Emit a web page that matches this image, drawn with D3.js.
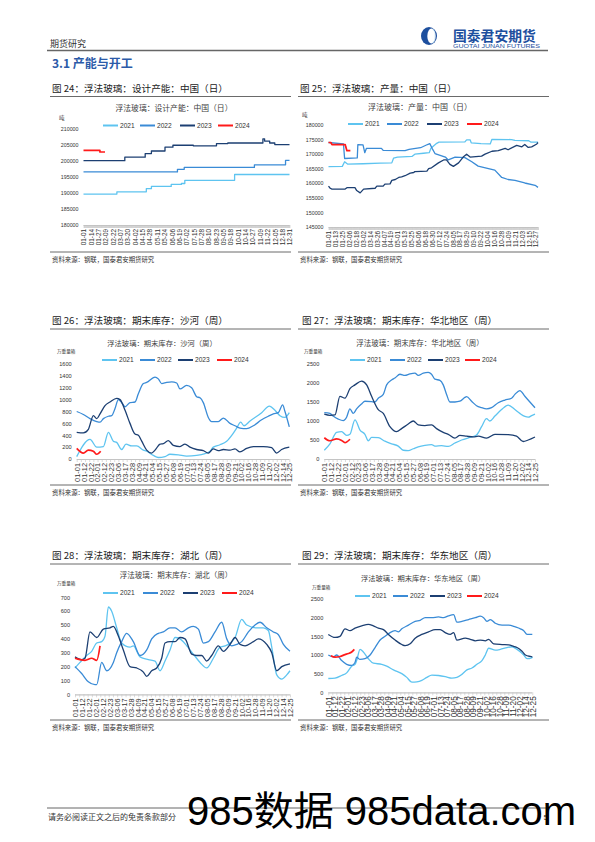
<!DOCTYPE html>
<html><head><meta charset="utf-8">
<script src="https://cdn.jsdelivr.net/npm/d3@7"></script>
<style>body{margin:0;background:#fff}svg{display:block}</style>
</head><body>
<svg id="page" width="595" height="842"></svg>
<script>
// ---------------- DATA ----------------
const years = ["2021", "2022", "2023", "2024"];

// Chart 24: design capacity (daily, step) [dayOfYear, tonnes]
const capLabels = ["01-01","01-14","01-27","02-09","02-22","03-07","03-20","04-02","04-15","04-28","05-11","05-24","06-06","06-19","07-02","07-15","07-28","08-10","08-23","09-05","09-18","10-01","10-14","10-27","11-09","11-22","12-05","12-18","12-31"];
const capTicks = [180000,185000,190000,195000,200000,205000,210000];
const cap2021 = [[0,189600],[59,190300],[111,191300],[120,192000],[155,192600],[173,192900],[179,193900],[267,195700],[364,195700]];
const cap2022 = [[0,196500],[166,197300],[178,197900],[302,198700],[357,200100],[364,200100]];
const cap2023 = [[0,200000],[73,201100],[109,202200],[120,203000],[144,204200],[158,204800],[194,204600],[235,205300],[255,205500],[317,206800],[320,206100],[329,205500],[338,205000],[364,205000]];
const cap2024 = [[0,203200],[29,202700],[38,202700]];

// Chart 25: output (daily) [dayOfYear, tonnes]
const outLabels = ["01-01","01-13","01-25","02-06","02-18","03-02","03-14","03-26","04-07","04-19","05-01","05-13","05-25","06-06","06-18","06-30","07-12","07-24","08-05","08-17","08-29","09-10","09-22","10-04","10-16","10-28","11-09","11-21","12-03","12-15","12-27"];
const outTicks = [145000,150000,155000,160000,165000,170000,175000,180000];
const out2021 = [[0,165700],[24,165800],[28,167400],[33,166600],[60,166700],[90,166900],[110,167000],[113,168600],[120,169000],[145,169200],[150,170000],[165,170300],[175,170500],[178,172000],[188,173700],[192,174100],[237,174200],[240,174900],[246,174900],[248,173900],[265,173600],[281,173500],[284,175100],[318,175000],[324,174700],[348,174600],[352,174100],[364,174100]];
const out2022 = [[0,174000],[26,173500],[28,168500],[50,168700],[51,173300],[60,173200],[63,170500],[66,172000],[92,172000],[95,171300],[133,171200],[140,171600],[160,172200],[172,173300],[176,173600],[180,172000],[185,170200],[203,169000],[208,168000],[220,169000],[237,168800],[249,167400],[260,165900],[278,165000],[289,164500],[301,162000],[312,161300],[324,161000],[341,160100],[359,159300],[364,158600]];
const out2023 = [[0,159000],[3,158300],[6,158000],[29,158000],[32,158500],[46,158500],[49,157500],[55,156700],[61,158000],[81,158300],[84,159000],[95,159000],[98,159700],[107,159800],[110,161000],[116,161300],[122,162000],[127,162200],[133,162600],[142,163500],[148,163700],[150,164000],[171,164200],[174,165000],[179,165300],[191,167000],[200,168000],[205,168000],[211,166500],[217,165800],[226,167000],[234,169000],[240,170000],[246,169000],[266,169300],[272,170000],[284,171000],[295,171200],[307,172000],[312,171500],[327,173000],[336,172500],[341,173300],[347,172300],[353,172500],[362,173500],[364,174000]];
const out2024 = [[0,174000],[4,174000],[6,173300],[29,173300],[30,172500],[32,171200],[38,171200]];

// Weekly inventory charts: x = position along the category labels
const weekLabels = ["01-01","01-12","01-22","02-01","02-12","02-23","03-06","03-17","03-28","04-09","04-21","05-04","05-15","05-27","06-08","06-19","07-01","07-13","07-24","08-05","08-17","08-28","09-09","09-21","10-02","10-16","10-28","11-09","11-20","12-02","12-14","12-25"];

// Chart 26: Shahe
const shTicks = [0,200,400,600,800,1000,1200,1400,1600];
const sh2021 = [[0,40],[1.94,330],[2.92,200],[3.89,210],[4.62,450],[5.34,300],[5.83,280],[6.56,160],[7.19,250],[8.02,220],[8.75,220],[9.72,150],[10.2,130],[11.18,60],[11.9,25],[12.88,40],[13.6,80],[14.82,70],[16.03,50],[17.49,60],[18.71,90],[19.44,130],[19.92,200],[20.89,240],[21.87,300],[22.74,420],[23.32,520],[23.91,620],[24.39,560],[25.27,640],[26.97,780],[28.09,890],[28.91,820],[29.64,730],[30.37,700],[31,780]];
const sh2022 = [[0,800],[0.97,750],[1.94,680],[2.92,630],[3.4,620],[3.89,680],[4.62,720],[5.1,730],[5.59,850],[6.07,1000],[6.56,950],[7.05,880],[7.77,950],[8.5,960],[8.99,1100],[9.72,1270],[10.2,1290],[11.42,1380],[11.9,1350],[12.39,1270],[13.12,1290],[13.85,1300],[14.58,1280],[15.06,1180],[16.03,1240],[16.76,1200],[17.49,1050],[17.98,1030],[18.46,950],[19.19,700],[19.68,630],[20.65,630],[21.38,690],[22.35,600],[23.08,560],[23.81,520],[24.78,510],[25.76,560],[26.97,660],[27.94,720],[28.67,760],[29.4,780],[30.03,910],[30.37,800],[31,540]];
const sh2023 = [[0,450],[0.97,440],[1.7,500],[2.43,730],[2.92,680],[3.4,760],[4.13,900],[4.86,960],[5.83,1020],[6.32,1000],[7.05,820],[7.77,600],[8.5,420],[8.99,400],[9.48,300],[10.2,150],[10.93,100],[11.42,150],[12.15,250],[12.63,260],[13.36,310],[14.09,230],[15.06,210],[15.79,250],[16.52,200],[17.49,160],[18.46,140],[19.19,100],[19.92,170],[20.65,140],[21.38,160],[22.35,150],[23.08,170],[23.81,120],[24.78,180],[25.76,210],[27.21,210],[28.43,190],[29.15,100],[29.88,160],[31,200]];
const sh2024 = [[0,180],[0.97,100],[1.7,150],[2.43,130],[2.92,80],[3.5,130]];

// Chart 27: North China
const hbTicks = [0,500,1000,1500,2000,2500];
const hb2021 = [[0,230],[0.83,400],[1.81,700],[2.55,720],[3.28,620],[3.77,650],[4.51,1030],[5.25,760],[5.98,650],[6.47,480],[6.96,570],[7.94,560],[8.92,470],[9.9,400],[10.88,340],[11.62,230],[12.35,220],[13.09,270],[13.82,320],[14.8,360],[15.78,380],[16.27,340],[17.25,350],[18.24,330],[19.22,420],[20.2,500],[21.67,580],[22.4,630],[23.14,850],[23.87,1060],[24.36,1000],[25.1,1130],[26.08,1300],[27.06,1420],[28.04,1300],[28.77,1200],[29.51,1120],[30,1100],[30.59,1150],[31,1180]];
const hb2022 = [[0,1220],[0.83,1200],[1.3,1130],[2.06,1050],[2.79,1010],[3.28,1100],[3.77,1320],[4.26,1200],[4.75,1320],[5.49,1450],[5.98,1520],[6.96,1510],[7.45,1500],[7.94,1600],[8.68,1700],[9.17,1950],[9.9,2080],[10.39,2130],[11.13,2230],[11.86,2200],[12.6,2240],[13.33,2260],[13.82,2200],[14.56,2260],[15.29,2280],[15.78,2230],[16.27,2100],[17.01,2070],[17.5,1950],[17.99,1700],[18.48,1500],[19.22,1500],[19.95,1520],[20.69,1620],[20.93,1640],[21.67,1520],[22.4,1400],[23.14,1350],[23.87,1320],[24.61,1350],[25.59,1480],[26.57,1550],[27.55,1600],[28.04,1700],[28.77,1800],[29.51,1650],[30.25,1500],[31,1350]];
const hb2023 = [[0,1180],[0.83,1150],[1.57,1160],[2.3,1650],[3.04,1600],[3.77,1850],[4.51,1950],[5.49,2050],[6.23,1950],[6.96,1650],[7.94,1300],[8.68,1200],[9.66,850],[10.64,720],[11.37,800],[12.35,920],[13.09,1000],[13.82,900],[14.8,880],[15.78,900],[16.52,800],[17.5,700],[18.24,650],[19.22,550],[19.95,620],[20.93,600],[21.91,580],[22.65,600],[23.87,550],[25.1,650],[27.06,640],[28.28,600],[29.26,460],[30,500],[31,580]];
const hb2024 = [[0,560],[0.83,480],[1.81,530],[2.55,490],[3.04,430],[3.77,520]];

// Chart 28: Hubei
const huTicks = [0,100,200,300,400,500,600,700];
const hu2021 = [[0,190],[0.72,230],[1.68,280],[2.4,310],[3.13,370],[3.85,380],[4.33,420],[4.81,630],[5.29,600],[6.01,480],[6.73,370],[7.93,340],[8.41,350],[9.38,270],[10.58,250],[11.54,240],[12.26,170],[12.98,240],[13.7,320],[14.42,410],[15.14,400],[16.11,350],[17.07,290],[18.03,230],[18.99,190],[19.95,260],[20.91,340],[21.63,350],[22.12,360],[23.08,410],[24.04,540],[24.76,500],[26.2,480],[27.16,480],[27.88,460],[28.37,340],[29.09,140],[29.81,110],[30.53,140],[31,170]];
const hu2022 = [[0,200],[0.96,150],[1.92,90],[2.88,70],[3.13,70],[3.85,230],[4.57,170],[5.53,230],[6.01,300],[6.73,380],[7.45,440],[8.41,380],[9.38,280],[10.34,320],[11.06,400],[12.02,440],[12.74,450],[13.7,480],[14.42,480],[15.38,450],[16.35,480],[17.07,490],[17.79,470],[18.51,370],[19.23,380],[20.19,450],[21.15,520],[21.88,400],[22.6,350],[23.32,360],[24.04,380],[25,450],[25.96,500],[26.68,520],[27.64,480],[28.61,450],[29.33,430],[30.05,360],[31,310]];
const hu2023 = [[0,270],[0.96,250],[1.44,260],[2.16,450],[3.13,410],[4.09,470],[5.05,480],[5.53,490],[6.25,420],[6.97,320],[7.93,200],[8.89,190],[9.86,160],[10.34,130],[11.06,170],[11.78,190],[12.5,260],[12.98,370],[13.7,380],[14.42,380],[15.14,410],[15.87,400],[16.83,290],[17.55,280],[18.27,280],[18.99,240],[19.71,280],[20.67,350],[21.39,310],[22.36,360],[23.08,410],[23.8,360],[24.52,350],[25.72,380],[26.44,400],[27.64,360],[28.37,300],[29.09,170],[29.81,200],[31,220]];
const hu2024 = [[0,260],[0.72,250],[1.44,245],[2.4,260],[3.13,245],[3.61,350]];

// Chart 29: East China
const hdTicks = [0,500,1000,1500,2000,2500];
const hd2021 = [[0,370],[1.02,380],[2.03,450],[2.79,520],[3.55,700],[4.06,750],[4.31,850],[4.82,1150],[5.33,1080],[6.09,900],[6.85,780],[8.12,750],[8.88,700],[9.9,600],[11.17,500],[11.93,400],[12.69,270],[13.45,280],[14.21,320],[14.97,400],[15.74,460],[16.75,450],[17.77,420],[18.78,380],[19.54,400],[20.3,480],[21.07,600],[21.83,650],[22.59,750],[23.35,850],[23.86,1000],[24.37,1180],[25.38,1130],[26.14,1150],[27.16,1200],[27.92,1220],[28.68,1150],[29.7,1000],[30.2,900],[30.96,930],[31,950]];
const hd2022 = [[0,1000],[0.76,950],[1.27,1000],[2.03,850],[2.79,750],[3.55,720],[4.06,800],[4.31,940],[4.82,880],[5.58,900],[6.35,1000],[7.11,1200],[7.87,1400],[8.63,1500],[9.39,1600],[10.15,1650],[10.66,1620],[11.17,1700],[12.18,1800],[13.2,1900],[13.96,1930],[14.72,2000],[15.74,2000],[16.75,2020],[17.51,2000],[18.27,2050],[19.04,2080],[19.54,1880],[20.3,1900],[21.32,1950],[22.34,2000],[23.1,2040],[23.6,2000],[24.11,1900],[24.62,1950],[25.38,1850],[26.4,1800],[27.41,1800],[28.43,1750],[29.19,1700],[29.7,1650],[30.2,1550],[31,1550]];
const hd2023 = [[0,1550],[1.02,1470],[1.78,1500],[2.54,1700],[3.3,1650],[4.06,1720],[5.08,1780],[6.09,1820],[6.85,1780],[7.61,1720],[8.38,1680],[9.14,1550],[10.15,1400],[11.17,1280],[11.68,1250],[12.44,1300],[13.2,1450],[14.21,1550],[15.23,1620],[16.24,1680],[17.01,1680],[17.77,1600],[18.53,1550],[19.04,1600],[19.54,1400],[20.81,1450],[21.57,1420],[22.34,1380],[23.1,1400],[23.86,1380],[24.37,1420],[25.13,1300],[26.4,1280],[27.41,1270],[28.17,1230],[28.68,1200],[29.44,1100],[29.95,1000],[30.71,960],[31,950]];
const hd2024 = [[0.4,980],[1.02,940],[1.78,960],[2.54,1010],[3.05,1040],[3.55,1080],[3.96,1150]];

// ---------------- STYLE / LAYOUT ----------------
const COLORS = ["#5ec4f0", "#3a8bd6", "#1c3f72", "#ff1a1a"];
const CJK = "'Noto Sans CJK SC', sans-serif";
const NUM = "'Liberation Sans', Arial, sans-serif";

const svg = d3.select("#page");

function txt(x, y, s, size, opt = {}) {
  return svg.append("text").attr("x", x).attr("y", y).text(s)
    .attr("font-family", opt.family || CJK).attr("font-size", size)
    .attr("fill", opt.fill || "#262626").attr("font-weight", opt.weight || "normal")
    .attr("text-anchor", opt.anchor || "start");
}
function hline(x1, x2, y, color, w) {
  svg.append("line").attr("x1", x1).attr("x2", x2).attr("y1", y).attr("y2", y)
    .attr("stroke", color).attr("stroke-width", w);
}

// Header
txt(50, 47, "期货研究", 9, {fill: "#333"});
hline(47, 548, 50.5, "#666", 1.3);
const lg = svg.append("g");
lg.append("ellipse").attr("cx", 429).attr("cy", 36).attr("rx", 8).attr("ry", 9).attr("fill", "#1d4f9e");
lg.append("ellipse").attr("cx", 431.5).attr("cy", 36).attr("rx", 4.2).attr("ry", 7.4).attr("fill", "#fff");
lg.append("path").attr("d", "M432,29 A4.2,7.4 0 0 1 432,43 A3,7 0 0 0 432,29 Z").attr("fill", "#5fb8e8");
txt(453, 40.5, "国泰君安期货", 13.8, {fill: "#1d4f9e", weight: "bold"});
svg.append("text").attr("x", 453).attr("y", 48).text("GUOTAI JUNAN FUTURES")
  .attr("font-family", NUM).attr("font-size", 4.6).attr("fill", "#1d4f9e")
  .attr("textLength", 87).attr("lengthAdjust", "spacingAndGlyphs");
txt(52, 68, "3.1  产能与开工", 12, {fill: "#2b5aa8", weight: "bold"});

// Footer
hline(47, 548, 808, "#666", 1);
txt(48, 820, "请务必阅读正文之后的免责条款部分", 8, {fill: "#333"});
txt(548, 820, "5", 8, {family: NUM, anchor: "end", fill: "#333"});

// ---------------- CHART FUNCTION ----------------
function drawChart(c) {
  txt(c.tx, c.ty, c.title, 9.6, {fill: "#222"});
  hline(c.lx1, c.lx2, c.ty + 5, "#444", 0.8);
  txt(c.itx, c.ity, c.inner, c.ifs || 7.6, {anchor: "middle", fill: "#404040"});
  txt(c.ux, c.uy, c.unit, c.unitSize || 5, {fill: "#404040"});
  years.forEach((yr, k) => {
    const lx = c.legX[k];
    svg.append("line").attr("x1", lx).attr("x2", lx + 15).attr("y1", c.legY).attr("y2", c.legY)
      .attr("stroke", COLORS[k]).attr("stroke-width", 2);
    txt(lx + 17, c.legY + 2.4, yr, 6.6, {family: NUM, fill: "#333"});
  });
  const x = d3.scaleLinear().domain(c.xDomain).range([c.x0, c.x1]);
  const y = d3.scaleLinear().domain([c.yTicks[0], c.yTicks[c.yTicks.length - 1]]).range([c.yBot, c.yTop]);
  const ya = svg.append("g").attr("transform", `translate(${c.x0 - 2},0)`)
    .call(d3.axisLeft(y).tickValues(c.yTicks).tickSize(0).tickPadding(c.yPad || 3).tickFormat(d3.format("d")));
  ya.select(".domain").remove();
  ya.selectAll("text").attr("font-family", NUM).attr("font-size", c.ySize || 5.6).attr("fill", "#333");
  const band = svg.append("g").attr("transform", `translate(0,${c.yBot})`)
    .call(d3.axisBottom(x).tickValues(c.minorTicks).tickSize(3).tickFormat(""));
  band.selectAll("line").attr("stroke", "#c4c4c4").attr("stroke-width", 0.6);
  band.select(".domain").attr("stroke", "#c4c4c4").attr("stroke-width", 1.2).attr("d", `M${c.x0},0.5H${c.x1}`);
  const xa = svg.append("g").attr("transform", `translate(0,${c.yBot + 3})`)
    .call(d3.axisBottom(x).tickValues(c.labelPos).tickSize(0).tickFormat((d, i) => c.labels[i]));
  xa.select(".domain").remove();
  xa.selectAll("text").attr("font-family", NUM).attr("font-size", c.xSize || 6.4).attr("fill", "#333")
    .attr("text-anchor", "end").attr("transform", "rotate(-90)")
    .attr("x", -1).attr("y", 0).attr("dx", 0).attr("dy", "0.35em");
  const line = d3.line().x(d => x(d[0])).y(d => y(d[1])).curve(c.curve);
  c.series.forEach((s, k) => {
    svg.append("path").datum(s).attr("d", line).attr("fill", "none")
      .attr("stroke", COLORS[k]).attr("stroke-width", k === 3 ? 1.7 : 1.3).attr("stroke-linejoin", "round");
  });
  hline(c.lx1, c.lx2, c.srcY, "#444", 0.8);
  txt(c.lx1 + 2, c.srcY + 9.5, "资料来源：钢联，国泰君安期货研究", 6.4, {fill: "#333"});
}

const dayOf = s => { const [m, d] = s.split("-").map(Number); return d3.timeDay.count(new Date(2023, 0, 1), new Date(2023, m - 1, d)); };
const allDays = d3.range(0, 365);
const weekMinor = d3.range(0, 52).map(w => w * 31 / 51);
const weekPos = d3.range(weekLabels.length);

drawChart({
  title: "图 24：浮法玻璃：设计产能：中国（日）", tx: 52, ty: 91.5, lx1: 50, lx2: 291,
  inner: "浮法玻璃：设计产能：中国（日）", itx: 174, ity: 110.5, ifs: 7.8,
  unit: "吨", ux: 59, uy: 119.5, unitSize: 5.5,
  legX: [103, 140, 180, 218], legY: 125.5,
  x0: 83.5, x1: 289.5, xDomain: [0, 364], yTop: 128.5, yBot: 225, yTicks: capTicks, ySize: 5.3,
  labels: capLabels, labelPos: capLabels.map(dayOf), minorTicks: allDays, xSize: 6.4,
  series: [cap2021, cap2022, cap2023, cap2024], curve: d3.curveStepAfter, srcY: 252
});
drawChart({
  title: "图 25：浮法玻璃：产量：中国（日）", tx: 300, ty: 91.5, lx1: 298, lx2: 549,
  inner: "浮法玻璃：产量：中国（日）", itx: 420, ity: 110, ifs: 8,
  unit: "吨", ux: 302, uy: 116.5, unitSize: 5.5,
  legX: [348, 387, 427, 467], legY: 124,
  x0: 328.5, x1: 538, xDomain: [0, 364], yTop: 125, yBot: 227, yTicks: outTicks, ySize: 5.3,
  labels: outLabels, labelPos: outLabels.map(dayOf), minorTicks: allDays, xSize: 6.4,
  series: [out2021, out2022, out2023, out2024], curve: d3.curveLinear, srcY: 252
});
drawChart({
  title: "图 26：浮法玻璃：期末库存：沙河（周）", tx: 52, ty: 324, lx1: 50, lx2: 291,
  inner: "浮法玻璃：期末库存：沙河（周）", itx: 162, ity: 346, ifs: 7.3,
  unit: "万重量箱", ux: 57, uy: 353, unitSize: 4.6,
  legX: [102, 140, 178, 217], legY: 360,
  x0: 76.7, x1: 289.3, xDomain: [0, 31], yTop: 364, yBot: 459, yTicks: shTicks, ySize: 5.6,
  labels: weekLabels, labelPos: weekPos, minorTicks: weekMinor, xSize: 7.4,
  series: [sh2021, sh2022, sh2023, sh2024], curve: d3.curveMonotoneX, srcY: 485
});
drawChart({
  title: "图 27：浮法玻璃：期末库存：华北地区（周）", tx: 302, ty: 324, lx1: 298, lx2: 549,
  inner: "浮法玻璃：期末库存：华北地区（周）", itx: 420, ity: 346, ifs: 7.5,
  unit: "万重量箱", ux: 304, uy: 353, unitSize: 4.6,
  legX: [350, 390, 428, 465], legY: 360,
  x0: 324.3, x1: 535, xDomain: [0, 31], yTop: 364, yBot: 459, yTicks: hbTicks, ySize: 5.6,
  labels: weekLabels, labelPos: weekPos, minorTicks: weekMinor, xSize: 7.4,
  series: [hb2021, hb2022, hb2023, hb2024], curve: d3.curveMonotoneX, srcY: 485
});
drawChart({
  title: "图 28：浮法玻璃：期末库存：湖北（周）", tx: 52, ty: 559, lx1: 50, lx2: 291,
  inner: "浮法玻璃：期末库存：湖北（周）", itx: 176, ity: 578, ifs: 7.5,
  unit: "万重量箱", ux: 57, uy: 585, unitSize: 4.6,
  legX: [103, 143, 183, 222], legY: 593,
  x0: 75, x1: 290, xDomain: [0, 31], yTop: 597.3, yBot: 694.3, yTicks: huTicks, ySize: 5.6,
  labels: weekLabels, labelPos: weekPos, minorTicks: weekMinor, xSize: 7.4,
  series: [hu2021, hu2022, hu2023, hu2024], curve: d3.curveMonotoneX, srcY: 720
});
drawChart({
  title: "图 29：浮法玻璃：期末库存：华东地区（周）", tx: 302, ty: 559, lx1: 298, lx2: 549,
  inner: "浮法玻璃：期末库存：华东地区（周）", itx: 423, ity: 581, ifs: 7.3,
  unit: "万重量箱", ux: 312, uy: 588.5, unitSize: 4.6,
  legX: [355, 393, 430, 467], legY: 596,
  x0: 328.3, x1: 532.3, xDomain: [0, 31], yTop: 599, yBot: 692.3, yTicks: hdTicks, ySize: 5.6,
  labels: weekLabels, labelPos: weekPos, minorTicks: weekMinor, xSize: 8.2,
  series: [hd2021, hd2022, hd2023, hd2024], curve: d3.curveMonotoneX, srcY: 720
});

// Overlay watermark text at bottom
svg.append("text").attr("x", 187).attr("y", 825).text("985数据 985data.com")
  .attr("font-family", "'Liberation Sans', Arial, 'Noto Sans CJK SC', sans-serif")
  .attr("font-size", 40).attr("fill", "#000");
</script>
</body></html>
